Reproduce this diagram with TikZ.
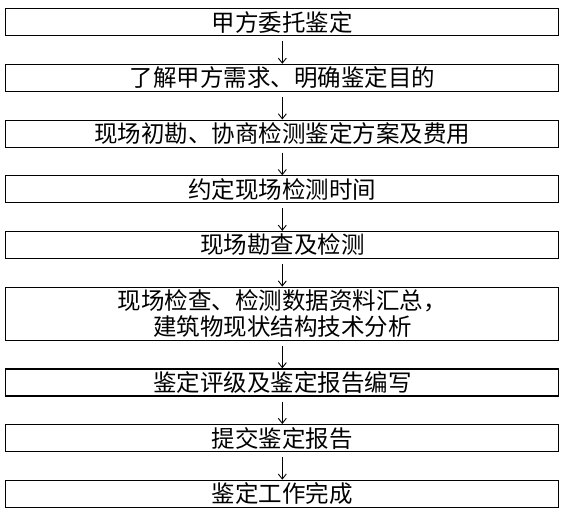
\documentclass[tikz,border=0pt]{standalone}
\usepackage{fontspec}
\setmainfont{Noto Sans CJK SC}
\usepackage{tikz}
\usetikzlibrary{arrows.meta, positioning}

\begin{document}
\begin{tikzpicture}[x=1pt,y=1pt,
  stepbox/.style={draw,line width=1.2pt,minimum width=553pt,minimum height=27pt,
    inner sep=0pt,align=center,font=\fontsize{23.5}{26}\selectfont},
  flow/.style={-{Straight Barb[length=5pt,width=8pt]},line width=0.9pt,shorten <=5pt},
  node distance=27.5pt]
\useasboundingbox (0,0) rectangle (569,-511);

% Steps
\node[stepbox] (s1) at (282.3,-22.2) {甲方委托鉴定};
\node[stepbox,below=of s1] (s2) {了解甲方需求、明确鉴定目的};
\node[stepbox,below=of s2] (s3) {现场初勘、协商检测鉴定方案及费用};
\node[stepbox,below=of s3] (s4) {约定现场检测时间};
\node[stepbox,below=of s4] (s5) {现场勘查及检测};
\node[stepbox,below=of s5,minimum height=53pt] (s6) {现场检查、检测数据资料汇总，\\建筑物现状结构技术分析};
\node[stepbox,below=of s6] (s7) {鉴定评级及鉴定报告编写};
\node[stepbox,below=of s7] (s8) {提交鉴定报告};
\node[stepbox,below=of s8] (s9) {鉴定工作完成};

% Arrows
\foreach \a/\b in {s1/s2,s2/s3,s3/s4,s4/s5,s5/s6,s6/s7,s7/s8,s8/s9}
  \draw[flow] (\a.south) -- (\b.north);
\end{tikzpicture}
\end{document}
